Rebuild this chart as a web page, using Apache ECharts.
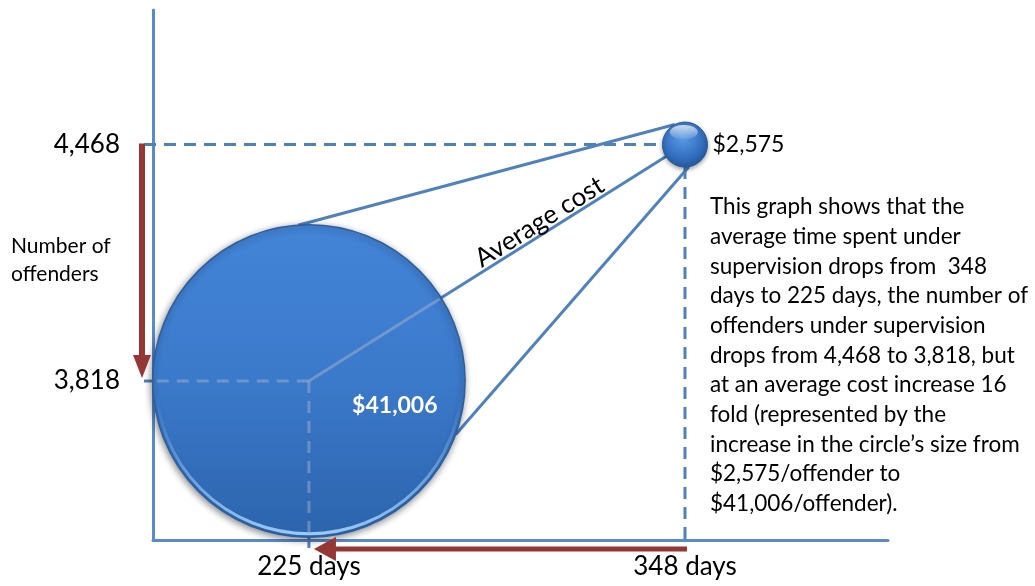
<!DOCTYPE html>
<html>
<head>
<meta charset="utf-8">
<script src="https://cdn.jsdelivr.net/npm/echarts@6/dist/echarts.min.js"></script>
<style>
  html, body { margin: 0; padding: 0; background: #ffffff; }
  #chart { width: 1035px; height: 586px; }
</style>
</head>
<body>
<div id="chart"></div>
<script>
// Two supervision periods: average days under supervision, offenders, average cost per offender
const days = [348, 225];
const offenders = [4468, 3818];
const avgCost = [2575, 41006];
const dayLabels = ['348 days', '225 days'];
const offenderLabels = ['4,468', '3,818'];
const costLabels = ['$2,575', '$41,006'];
const yTitle = 'Number of\noffenders';
const costTitle = 'Average cost';
const note = [
  'This graph shows that the',
  'average time spent under',
  'supervision drops from  348',
  'days to 225 days, the number of',
  'offenders under supervision',
  'drops from 4,468 to 3,818, but',
  'at an average cost increase 16',
  'fold (represented by the',
  'increase in the circle\u2019s size from',
  '$2,575/offender to',
  '$41,006/offender).'
];

// axis extents
const X_MIN = 174, X_MAX = 414.4;
const Y_MIN = 3381, Y_MAX = 4838;

const FONT = 'Lato, "Open Sans", "DejaVu Sans", sans-serif';
const BLUE = '#4f81bd';
const AXIS_BLUE = '#5a8bc9';
const RED = '#953735';
const DEG = Math.PI / 180;

// bubble diameter in px grows with cost
const diameter = c => 45 * Math.pow(c / Math.min(...avgCost), 0.7);

const items = days.map((d, i) => [d, offenders[i], avgCost[i], i]);

function at(api, i) { return api.coord([days[i], offenders[i]]); }
function corner(api) { return api.coord([X_MIN, Y_MIN]); }
function onCircle(c, r, a) { return [c[0] + r * Math.cos(a * DEG), c[1] + r * Math.sin(a * DEG)]; }
function seg(p1, p2, style) {
  return { type: 'line', shape: { x1: p1[0], y1: p1[1], x2: p2[0], y2: p2[1] }, style: style, silent: true };
}
const dashed = { stroke: BLUE, lineWidth: 3, lineDash: [12, 8] };
const fadedDash = { stroke: 'rgba(175,185,205,0.45)', lineWidth: 3, lineDash: [12, 8] };
const faded = { stroke: 'rgba(175,185,205,0.45)', lineWidth: 3 };
const solid = { stroke: BLUE, lineWidth: 3 };

// dashed guides from the axes to each bubble
function renderGuides(params, api) {
  const p = api.coord([api.value(0), api.value(1)]);
  const r = diameter(api.value(2)) / 2;
  const o = corner(api);
  return { type: 'group', children: [
    seg([o[0] - 9, p[1]], [p[0] - r, p[1]], dashed),
    seg([p[0], p[1] + r], [p[0], o[1] + 8], dashed)
  ]};
}

// cone of lines joining the small bubble to the large one
function renderCone(params, api) {
  const s = at(api, 0), b = at(api, 1);
  const rs = diameter(avgCost[0]) / 2, rb = diameter(avgCost[1]) / 2;
  const ang = Math.atan2(s[1] - b[1], s[0] - b[0]);
  const t = 0.63;
  const mid = [b[0] + (s[0] - b[0]) * t, b[1] + (s[1] - b[1]) * t];
  return { type: 'group', children: [
    seg(onCircle(s, rs, -117), onCircle(b, rb, -94), solid),
    seg(onCircle(s, rs, 80), onCircle(b, rb, 20), solid),
    seg(b, onCircle(s, rs, 180 + ang / DEG), solid),
    { type: 'text', x: mid[0], y: mid[1], rotation: -ang, silent: true,
      style: { text: costTitle, font: '26px ' + FONT, fill: '#000', align: 'center', verticalAlign: 'bottom', y: 1 } }
  ]};
}

function renderBubble(params, api) {
  const p = api.coord([api.value(0), api.value(1)]);
  const r = diameter(api.value(2)) / 2;
  const i = api.value(3);
  const children = [];
  if (r > 40) {
    children.push(
      { type: 'circle', shape: { cx: p[0], cy: p[1], r: r }, silent: true,
        style: {
          fill: new echarts.graphic.LinearGradient(0, 0, 0, 1, [
            { offset: 0, color: '#4485d8' }, { offset: 0.5, color: '#3b79ca' }, { offset: 1, color: '#2c64ad' }
          ]),
          stroke: '#2d5f9f', lineWidth: 1.5,
          shadowBlur: 7, shadowOffsetX: -1, shadowOffsetY: 2, shadowColor: 'rgba(0,0,0,0.45)'
        } },
      { type: 'circle', shape: { cx: p[0], cy: p[1], r: r - 3.5 }, silent: true,
        style: {
          fill: null, lineWidth: 3,
          stroke: new echarts.graphic.LinearGradient(0, 0, 0, 1, [
            { offset: 0, color: 'rgba(150,200,250,0)' }, { offset: 0.55, color: 'rgba(150,200,250,0)' },
            { offset: 1, color: 'rgba(160,208,252,0.95)' }
          ])
        } },
      { type: 'text', x: p[0] + 0.55 * r, y: p[1] + 0.16 * r, silent: true,
        style: { text: costLabels[i], font: 'bold 23px ' + FONT, fill: '#ffffff', align: 'center', verticalAlign: 'middle' } }
    );
  } else {
    children.push(
      { type: 'circle', shape: { cx: p[0], cy: p[1], r: r }, silent: true,
        style: {
          fill: new echarts.graphic.RadialGradient(0.45, 0.35, 0.75, [
            { offset: 0, color: '#5d9be4' }, { offset: 0.55, color: '#3571c2' }, { offset: 1, color: '#1f4f8e' }
          ]),
          stroke: '#2a5a98', lineWidth: 1,
          shadowBlur: 4, shadowOffsetY: 2, shadowColor: 'rgba(0,0,0,0.35)'
        } },
      { type: 'ellipse', shape: { cx: p[0] - 0.05 * r, cy: p[1] - 0.55 * r, rx: 0.62 * r, ry: 0.32 * r }, silent: true,
        style: {
          fill: new echarts.graphic.LinearGradient(0, 0, 0, 1, [
            { offset: 0, color: 'rgba(255,255,255,0.75)' }, { offset: 1, color: 'rgba(255,255,255,0.05)' }
          ])
        } },
      { type: 'text', x: p[0] + r + 5, y: p[1], silent: true,
        style: { text: costLabels[i], font: '23px ' + FONT, fill: '#000', align: 'left', verticalAlign: 'middle' } }
    );
  }
  return { type: 'group', children: children };
}

// guides seen through the large translucent disc
function renderInner(params, api) {
  const p = api.coord([api.value(0), api.value(1)]);
  const r = diameter(api.value(2)) / 2;
  if (r <= 40) return null;
  const s = at(api, 0);
  const ang = Math.atan2(s[1] - p[1], s[0] - p[0]);
  return { type: 'group', children: [
    seg([p[0] - r + 4, p[1]], p, fadedDash),
    seg(p, [p[0], p[1] + r - 3], fadedDash),
    seg(p, [p[0] + (r - 2) * Math.cos(ang), p[1] + (r - 2) * Math.sin(ang)], faded)
  ]};
}

// red arrows showing the drop in offenders and in days
function renderArrows(params, api) {
  const o = corner(api);
  const yTop = at(api, 0)[1], yLow = at(api, 1)[1];
  const xRight = at(api, 0)[0], xLeft = at(api, 1)[0];
  const ax = o[0] - 11, ay = o[1] + 9;
  const vTip = yLow - 3, hTip = xLeft + 5;
  const red = { fill: RED };
  return { type: 'group', children: [
    { type: 'rect', shape: { x: ax - 3, y: yTop - 1, width: 6, height: vTip - 22 - yTop + 1 }, style: red, silent: true },
    { type: 'polygon', shape: { points: [[ax - 9, vTip - 23], [ax + 9, vTip - 23], [ax, vTip]] }, style: red, silent: true },
    { type: 'rect', shape: { x: hTip + 21, y: ay - 2.5, width: xRight + 2 - hTip - 21, height: 5 }, style: red, silent: true },
    { type: 'polygon', shape: { points: [[hTip + 22, ay - 12], [hTip + 22, ay + 12], [hTip, ay]] }, style: red, silent: true }
  ]};
}

const chart = echarts.init(document.getElementById('chart'));
chart.setOption({
  animation: false,
  backgroundColor: '#ffffff',
  grid: { left: 153, right: 147, top: 10, bottom: 46, containLabel: false, outerBoundsMode: 'none' },
  xAxis: {
    type: 'value', min: X_MIN, max: X_MAX,
    axisLine: { show: true, onZero: false, lineStyle: { color: AXIS_BLUE, width: 3 } },
    axisTick: { show: false }, splitLine: { show: false },
    axisLabel: {
      customValues: days, formatter: v => dayLabels[days.indexOf(v)],
      fontFamily: FONT, fontSize: 26, color: '#000', margin: 14
    }
  },
  yAxis: {
    type: 'value', min: Y_MIN, max: Y_MAX,
    axisLine: { show: true, onZero: false, lineStyle: { color: AXIS_BLUE, width: 3 } },
    axisTick: { show: false }, splitLine: { show: false },
    axisLabel: {
      customValues: offenders, formatter: v => offenderLabels[offenders.indexOf(v)],
      fontFamily: FONT, fontSize: 26, color: '#000', margin: 33
    }
  },
  graphic: [
    { type: 'text', left: 11, top: 232, silent: true,
      style: { text: yTitle, font: '21px ' + FONT, fill: '#000', align: 'center', lineHeight: 28, x: 50 } },
    { type: 'text', left: 710, top: 192, silent: true,
      style: { text: note.join('\n'), font: '22.5px ' + FONT, fill: '#000', lineHeight: 29.7 } }
  ],
  series: [
    { type: 'custom', name: 'guides', z: 1, data: items, renderItem: renderGuides },
    { type: 'custom', name: 'cone', z: 2, data: [items[0]], renderItem: renderCone },
    { type: 'custom', name: 'bubbles', z: 3, data: items, renderItem: renderBubble },
    { type: 'custom', name: 'inner', z: 4, data: items, renderItem: renderInner },
    { type: 'custom', name: 'arrows', z: 5, data: [items[0]], renderItem: renderArrows }
  ]
});
</script>
</body>
</html>
